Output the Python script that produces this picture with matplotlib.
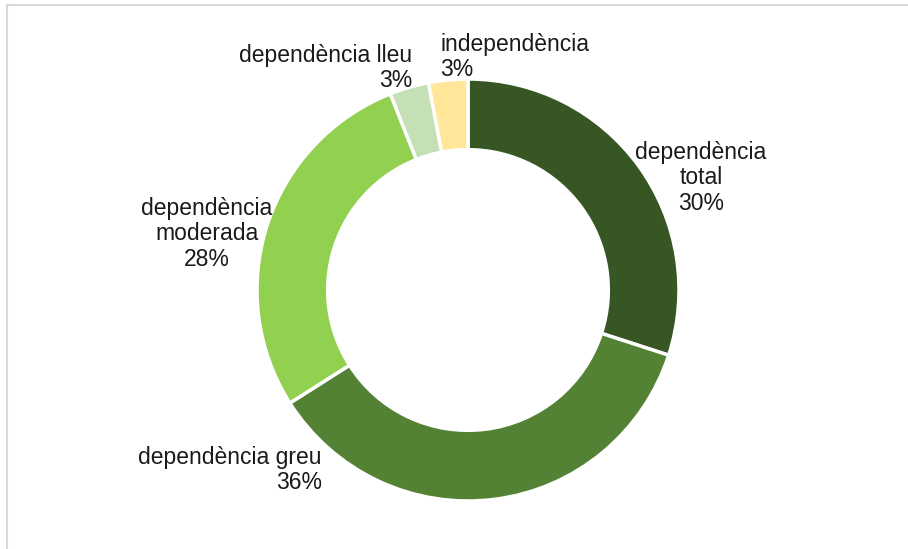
import matplotlib.pyplot as plt
from matplotlib.lines import Line2D

plt.rcParams['font.family'] = ['Liberation Sans', 'DejaVu Sans']

categories = ['dependència total', 'dependència greu', 'dependència moderada',
              'dependència lleu', 'independència']
label_text = ['dependència\ntotal', 'dependència greu', 'dependència\nmoderada',
              'dependència lleu', 'independència']
values = [30, 36, 28, 3, 3]
colors = ['#375623', '#548235', '#92D050', '#C5E0B4', '#FFE699']

W, H = 908, 549
fig = plt.figure(figsize=(W / 100, H / 100), dpi=100)

# pie centre and outer radius in pixels
cx, cy, r = 468, 290, 211
ax = fig.add_axes([(cx - r) / W, (H - cy - r) / H, 2 * r / W, 2 * r / H])
ax.pie(values, colors=colors, startangle=90, counterclock=False, radius=1,
       wedgeprops=dict(width=0.335, edgecolor='white', linewidth=2.5))
ax.set_xlim(-1, 1)
ax.set_ylim(-1, 1)
ax.set_aspect('equal')
ax.axis('off')

# label anchors (pixels) and alignment
label_pos = [(701, 178, 'center'), (322, 470, 'right'), (207, 234, 'center'),
             (412, 68, 'right'), (440, 57, 'left')]
for txt, v, (px, py, ha) in zip(label_text, values, label_pos):
    ax.text((px - cx) / r, (cy - py) / r, f'{txt}\n{v}%', ha=ha, va='center',
            multialignment=ha, fontsize=16.5, color='#1a1a1a', linespacing=1.15,
            clip_on=False)

# chart frame: only top and left edges are visible
fig.add_artist(Line2D([7 / W, 1], [1 - 5 / H, 1 - 5 / H], color='#d9d9d9', linewidth=1.5))
fig.add_artist(Line2D([7 / W, 7 / W], [0, 1 - 5 / H], color='#d9d9d9', linewidth=1.5))

fig.savefig('out.png', dpi=100)
